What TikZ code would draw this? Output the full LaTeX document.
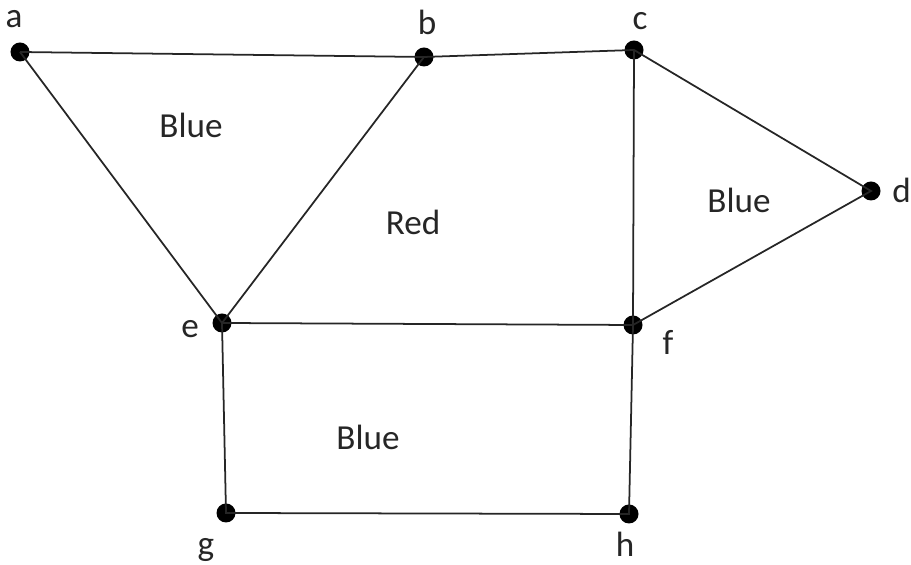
\documentclass[tikz,border=0pt]{standalone}
\usepackage{fontspec}
\setmainfont{Carlito}
\usepackage{tikz}
\usetikzlibrary{positioning}
\tikzstyle{dot} = [circle, fill=black, inner sep=0pt, minimum size=0.38cm]
\tikzstyle{edge} = [line width=1pt, black!85]

\begin{document}
\begin{tikzpicture}[
        % Estilo para las letras de los vertices y las regiones
        lbl/.style={font=\fontsize{20}{24}\selectfont, text=black!85, inner sep=0pt},
    ]
        \useasboundingbox (0,0) rectangle (18.22,11.3);

        % 1. Los vertices
        \node (a) [dot] at (0.40, 10.26) {};
        \node (b) [dot] at (8.48, 10.16) {};
        \node (c) [dot] at (12.68, 10.30) {};
        \node (d) [dot] at (17.42, 7.48) {};
        \node (e) [dot] at (4.44, 4.84) {};
        \node (f) [dot] at (12.66, 4.80) {};
        \node (g) [dot] at (4.52, 1.04) {};
        \node (h) [dot] at (12.58, 1.02) {};

        % 2. Las aristas
        \draw[edge] (a.center) -- (b.center) -- (c.center) -- (d.center) -- (f.center) -- (e.center) -- (a.center);
        \draw[edge] (b.center) -- (e.center);
        \draw[edge] (c.center) -- (f.center) -- (h.center) -- (g.center) -- (e.center);

        % 3. Nombres de los vertices
        \node (la) [lbl, anchor=base] at (0.28, 10.74) {a};
        \node (lb) [lbl, anchor=base] at (8.54, 10.60) {b};
        \node (lc) [lbl, anchor=base] at (12.80, 10.70) {c};
        \node (ld) [lbl, anchor=base west] at (17.84, 7.24) {d};
        \node (le) [lbl, anchor=base] at (3.80, 4.54) {e};
        \node (lf) [lbl, anchor=base] at (13.36, 4.20) {f};
        \node (lg) [lbl, anchor=base] at (4.12, 0.18) {g};
        \node (lh) [lbl, anchor=base] at (12.50, 0.16) {h};

        % 4. Colores de las regiones
        \node (blueA) [lbl] at (3.82, 8.80) {Blue};
        \node (red) [lbl] at (8.26, 6.86) {Red};
        \node (blueC) [lbl] at (14.78, 7.30) {Blue};
        \node (blueE) [lbl] at (7.36, 2.56) {Blue};

    \end{tikzpicture}
\end{document}
